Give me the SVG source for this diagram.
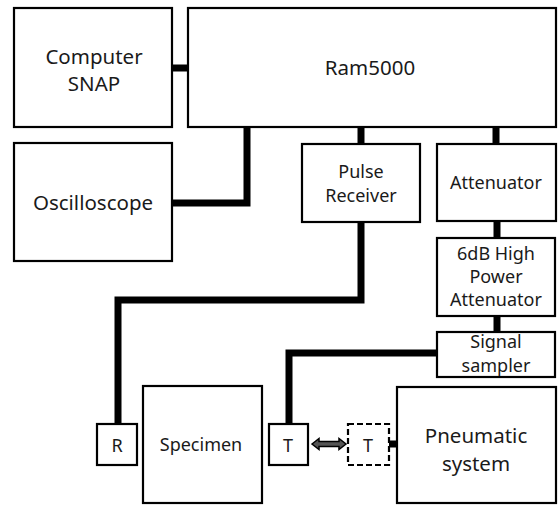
<svg xmlns="http://www.w3.org/2000/svg" width="558" height="505" viewBox="0 0 558 505">
<style>
.box{fill:#fff;stroke:#000;stroke-width:2.2}
.dash{fill:#fff;stroke:#000;stroke-width:2.2;stroke-dasharray:6 3}
.c{fill:none;stroke:#000;stroke-width:7;stroke-linejoin:miter}
.t{font-family:"Noto Sans","Open Sans",sans-serif;fill:#1a1a1a;text-anchor:middle}
.l{font-size:20.5px}
.m{font-size:18px}
</style>
<rect width="558" height="505" fill="#fff"/>
<g id="connectors">
<line class="c" x1="172" y1="68" x2="188" y2="68"/>
<polyline class="c" points="247,127 247,203 172,203"/>
<line class="c" x1="361" y1="127" x2="361" y2="144"/>
<line class="c" x1="496" y1="127" x2="496" y2="144"/>
<line class="c" x1="497" y1="221" x2="497" y2="238"/>
<line class="c" x1="497" y1="316" x2="497" y2="332"/>
<polyline class="c" points="361,222 361,300 118,300 118,424"/>
<polyline class="c" points="437,353 289,353 289,424"/>
<line class="c" x1="389" y1="444" x2="397" y2="444"/>
<polygon points="312,444 319,438.5 319,441.5 339,441.5 339,438.5 346,444 339,449.5 339,446.5 319,446.5 319,449.5" fill="#555" stroke="#000" stroke-width="1.5" stroke-linejoin="miter"/>
</g>
<g id="computer">
<rect class="box" x="14" y="8" width="158" height="119"/>
<text class="t l" x="94" y="64">Computer</text>
<text class="t l" x="94" y="91">SNAP</text>
</g>
<g id="ram5000">
<rect class="box" x="188" y="8" width="368" height="119"/>
<text class="t l" x="370" y="75">Ram5000</text>
</g>
<g id="oscilloscope">
<rect class="box" x="14" y="143" width="158" height="118"/>
<text class="t l" x="93" y="210">Oscilloscope</text>
</g>
<g id="pulse-receiver">
<rect class="box" x="302" y="144" width="118" height="78"/>
<text class="t m" x="361" y="178">Pulse</text>
<text class="t m" x="361" y="202">Receiver</text>
</g>
<g id="attenuator">
<rect class="box" x="437" y="144" width="119" height="77"/>
<text class="t m" x="496" y="189">Attenuator</text>
</g>
<g id="hp-attenuator">
<rect class="box" x="437" y="238" width="118" height="78"/>
<text class="t m" x="496" y="260">6dB High</text>
<text class="t m" x="496" y="283">Power</text>
<text class="t m" x="496" y="306">Attenuator</text>
</g>
<g id="signal-sampler">
<rect class="box" x="437" y="332" width="118" height="45"/>
<text class="t m" x="496" y="348">Signal</text>
<text class="t m" x="496" y="372">sampler</text>
</g>
<g id="receiver-r">
<rect class="box" x="97" y="424" width="40" height="41"/>
<text class="t m" x="117" y="452">R</text>
</g>
<g id="specimen">
<rect class="box" x="143" y="386" width="119" height="117"/>
<text class="t m" x="201" y="451">Specimen</text>
</g>
<g id="transmitter-t">
<rect class="box" x="269" y="424" width="39" height="41"/>
<text class="t m" x="288" y="452">T</text>
</g>
<g id="transmitter-t-alt">
<rect class="dash" x="348" y="424" width="41" height="41"/>
<text class="t m" x="368" y="452">T</text>
</g>
<g id="pneumatic">
<rect class="box" x="397" y="387" width="159" height="116"/>
<text class="t l" x="476" y="443">Pneumatic</text>
<text class="t l" x="476" y="471">system</text>
</g>
</svg>
